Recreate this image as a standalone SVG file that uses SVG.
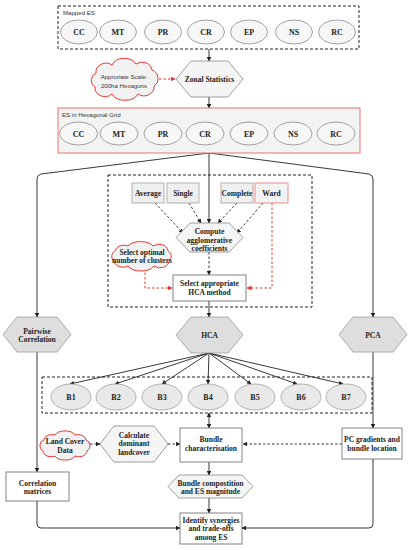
<svg xmlns="http://www.w3.org/2000/svg" width="410" height="550" viewBox="0 0 410 550">
<defs>
<style>
.t{font-family:"Liberation Serif","Times New Roman",serif;font-weight:bold;font-size:7.5px;fill:#222;text-anchor:middle}
.L{font-size:8px}
.s{font-family:"Liberation Sans",Arial,sans-serif;font-size:6.1px;fill:#333}
.el{fill:#f7f7f7;stroke:#8a8a8a;stroke-width:0.8}
.bel{fill:#e9e9e9;stroke:#a0a0a0;stroke-width:0.8}
.box{fill:#fff;stroke:#777;stroke-width:0.9}
.gbox{fill:#efefef;stroke:#aaa;stroke-width:0.9}
.hex{fill:#f5f5f5;stroke:#888;stroke-width:0.8}
.ghex{fill:#dedede;stroke:#999;stroke-width:0.8}
.cloud{fill:#f2f2f2;stroke:#e53935;stroke-width:1}
.grp{fill:none;stroke:#222;stroke-width:1;stroke-dasharray:3 2}
.c{fill:none;stroke:#222;stroke-width:0.9}
.d{fill:none;stroke:#222;stroke-width:0.9;stroke-dasharray:2.5 2}
.r{fill:none;stroke:#e53935;stroke-width:1;stroke-dasharray:2.5 2}
</style>
<marker id="a" viewBox="0 0 10 10" refX="9" refY="5" markerWidth="5" markerHeight="5" orient="auto-start-reverse"><path d="M0,0 L10,5 L0,10 z" fill="#222"/></marker>
<marker id="ar" viewBox="0 0 10 10" refX="9" refY="5" markerWidth="5" markerHeight="5" orient="auto"><path d="M0,0 L10,5 L0,10 z" fill="#e53935"/></marker>
</defs>
<rect width="410" height="550" fill="#fff"/>

<g id="connectors">
<path class="c" d="M209,49 L209,61" marker-end="url(#a)"/>
<path class="r" d="M159,79 L175,79" marker-end="url(#ar)"/>
<path class="c" d="M209,97 L209,108" marker-end="url(#a)"/>
<path class="c" d="M209,153 L41,174 Q37,175 37,179 L37,317" marker-end="url(#a)"/>
<path class="c" d="M209,153 L369,174 Q373,175 373,179 L373,317" marker-end="url(#a)"/>
<path class="c" d="M209,153 L209,223" marker-end="url(#a)"/>
<path class="d" d="M155,203 L183,233" marker-end="url(#a)"/>
<path class="d" d="M189,203 L201,223" marker-end="url(#a)"/>
<path class="d" d="M237,203 L218,223" marker-end="url(#a)"/>
<path class="d" d="M263,203 L237,233" marker-end="url(#a)"/>
<path class="d" d="M209,252 L209,275" marker-end="url(#a)"/>
<path class="r" d="M145,268 L145,288 L172,288" marker-end="url(#ar)"/>
<path class="r" d="M272,203 L272,288 L247,288" marker-end="url(#ar)"/>
<path class="c" d="M209,301 L209,317" marker-end="url(#a)"/>
<path class="c" d="M37,352 L37,472" marker-end="url(#a)"/>
<path class="c" d="M373,352 L373,428" marker-end="url(#a)"/>
<path class="c" d="M209,353 L70,384" marker-end="url(#a)"/>
<path class="c" d="M209,353 L115,384" marker-end="url(#a)"/>
<path class="c" d="M209,353 L162,384" marker-end="url(#a)"/>
<path class="c" d="M209,353 L208,384" marker-end="url(#a)"/>
<path class="c" d="M209,353 L251,384" marker-end="url(#a)"/>
<path class="c" d="M209,353 L297,384" marker-end="url(#a)"/>
<path class="c" d="M209,353 L343,384" marker-end="url(#a)"/>
<path class="c" d="M209,413 L209,428" marker-start="url(#a)" marker-end="url(#a)"/>
<path class="d" d="M90,444 L100,444" marker-end="url(#a)"/>
<path class="d" d="M168,444 L180,444" marker-end="url(#a)"/>
<path class="d" d="M342,444 L243,444" marker-end="url(#a)"/>
<path class="c" d="M209,462 L209,475" marker-end="url(#a)"/>
<path class="c" d="M209,498 L209,513" marker-end="url(#a)"/>
<path class="c" d="M37,501 L37,524 Q37,528 41,528 L180,528" marker-end="url(#a)"/>
<path class="c" d="M373,459 L373,524 Q373,528 369,528 L242,528" marker-end="url(#a)"/>
</g>

<g id="mapped-es">
<rect class="grp" x="58" y="6" width="301" height="43"/>
<text class="s" x="63" y="14.5">Mapped ES</text>
<ellipse class="el" cx="79" cy="32" rx="18.5" ry="12"/><text class="t L" x="79" y="35">CC</text>
<ellipse class="el" cx="118" cy="32" rx="18.5" ry="12"/><text class="t L" x="118" y="35">MT</text>
<ellipse class="el" cx="163" cy="32" rx="18.5" ry="12"/><text class="t L" x="163" y="35">PR</text>
<ellipse class="el" cx="206" cy="32" rx="18.5" ry="12"/><text class="t L" x="206" y="35">CR</text>
<ellipse class="el" cx="249" cy="32" rx="18.5" ry="12"/><text class="t L" x="249" y="35">EP</text>
<ellipse class="el" cx="294" cy="32" rx="18.5" ry="12"/><text class="t L" x="294" y="35">NS</text>
<ellipse class="el" cx="337" cy="32" rx="18.5" ry="12"/><text class="t L" x="337" y="35">RC</text>
</g>

<g id="scale-cloud">
<path class="cloud" d="M96,73 A10,9 0 0 1 112,65 A13,10 0 0 1 136,64 A10,9 0 0 1 152,70 A9,9 0 0 1 154,86 A10,9 0 0 1 138,94 A14,10 0 0 1 112,94 A10,9 0 0 1 95,87 A8,8 0 0 1 96,73 Z"/>
<text class="s" x="124" y="78.5" text-anchor="middle" font-size="6.5">Approriate Scale:</text>
<text class="s" x="124" y="87.5" text-anchor="middle" font-size="6.5">200ha Hexagons</text>
</g>

<g id="zonal">
<polygon class="hex" points="176,79 191,61 228,61 243,79 228,97 191,97"/>
<text class="t" x="209.5" y="81.6">Zonal Statistics</text>
</g>

<g id="es-hex">
<rect x="58" y="108" width="302" height="45" fill="#f3f3f3" stroke="#e87474" stroke-width="1"/>
<text class="s" x="62" y="116.5">ES in Hexagonal Grid</text>
<ellipse class="el" cx="78.5" cy="133.5" rx="19" ry="11.5"/><text class="t L" x="78.5" y="136.5">CC</text>
<ellipse class="el" cx="119" cy="133.5" rx="19" ry="11.5"/><text class="t L" x="119" y="136.5">MT</text>
<ellipse class="el" cx="163" cy="133.5" rx="19" ry="11.5"/><text class="t L" x="163" y="136.5">PR</text>
<ellipse class="el" cx="205" cy="133.5" rx="19" ry="11.5"/><text class="t L" x="205" y="136.5">CR</text>
<ellipse class="el" cx="249" cy="133.5" rx="19" ry="11.5"/><text class="t L" x="249" y="136.5">EP</text>
<ellipse class="el" cx="293" cy="133.5" rx="19" ry="11.5"/><text class="t L" x="293" y="136.5">NS</text>
<ellipse class="el" cx="336" cy="133.5" rx="19" ry="11.5"/><text class="t L" x="336" y="136.5">RC</text>
</g>

<g id="hca-group">
<rect class="grp" x="108" y="175" width="204" height="132"/>
</g>

<g id="average"><rect class="gbox" x="132" y="183" width="32" height="20"/><text class="t" x="148" y="195.7">Average</text></g>
<g id="single"><rect class="gbox" x="167" y="183" width="32" height="20"/><text class="t" x="183" y="195.7">Single</text></g>
<g id="complete"><rect class="gbox" x="221" y="183" width="32" height="20"/><text class="t" x="237" y="195.7">Complete</text></g>
<g id="ward"><rect x="255" y="183" width="33" height="20" fill="#f3f3f3" stroke="#ea8080" stroke-width="0.9"/><text class="t" x="271.5" y="195.7">Ward</text></g>

<g id="compute">
<polygon class="hex" points="176,237.5 190,223 229,223 243,237.5 229,252 190,252"/>
<text class="t" x="209.5" y="234.3">Compute</text>
<text class="t" x="209.5" y="243.2">agglomerative</text>
<text class="t" x="209.5" y="251.2">coefficients</text>
</g>

<g id="optimal-cloud">
<path class="cloud" d="M115,251 A9,7 0 0 1 128,246 A14,8 0 0 1 153,246 A9,7 0 0 1 168,251 A6,6 0 0 1 169,261 A9,7 0 0 1 154,266 A14,8 0 0 1 128,266 A9,7 0 0 1 114,261 A6,6 0 0 1 115,251 Z"/>
<text class="t" x="142" y="254.8" font-size="6.6">Select optimal</text>
<text class="t" x="142" y="263" font-size="6.6">number of clusters</text>
</g>

<g id="select-hca">
<rect class="box" x="173" y="275" width="73" height="26"/>
<text class="t" x="209.5" y="285.8">Select appropriate</text>
<text class="t" x="209.5" y="294.8">HCA method</text>
</g>

<g id="pairwise">
<polygon class="ghex" points="3,334.5 17,317 57,317 71,334.5 57,352 17,352"/>
<text class="t" x="37" y="333.5">Pairwise</text>
<text class="t" x="37" y="342">Correlation</text>
</g>

<g id="hca">
<polygon class="ghex" points="176,335 191,317 228,317 243,335 228,353 191,353"/>
<text class="t" x="209.5" y="337.7">HCA</text>
</g>

<g id="pca">
<polygon class="ghex" points="339,334.5 353,317 393,317 407,334.5 393,352 353,352"/>
<text class="t" x="373" y="337.5">PCA</text>
</g>

<g id="bundles">
<rect class="grp" x="42" y="377" width="330" height="36"/>
<ellipse class="bel" cx="71" cy="397" rx="20" ry="13"/><text class="t L" x="71" y="400">B1</text>
<ellipse class="bel" cx="116" cy="397" rx="20" ry="13"/><text class="t L" x="116" y="400">B2</text>
<ellipse class="bel" cx="162" cy="397" rx="20" ry="13"/><text class="t L" x="162" y="400">B3</text>
<ellipse class="bel" cx="208" cy="397" rx="20" ry="13"/><text class="t L" x="208" y="400">B4</text>
<ellipse class="bel" cx="255" cy="397" rx="20" ry="13"/><text class="t L" x="255" y="400">B5</text>
<ellipse class="bel" cx="301" cy="397" rx="20" ry="13"/><text class="t L" x="301" y="400">B6</text>
<ellipse class="bel" cx="346" cy="397" rx="20" ry="13"/><text class="t L" x="346" y="400">B7</text>
</g>

<g id="landcover-cloud">
<path class="cloud" d="M44,440 A8,6 0 0 1 55,435 A11,7 0 0 1 75,435 A8,6 0 0 1 86,440 A6,6 0 0 1 87,451 A8,6 0 0 1 75,456 A11,7 0 0 1 55,456 A8,6 0 0 1 43,451 A6,6 0 0 1 44,440 Z"/>
<text class="t" x="65" y="444.2" font-size="6.9">Land Cover</text>
<text class="t" x="65" y="452.8" font-size="6.9">Data</text>
</g>

<g id="dominant">
<polygon class="hex" points="100,444 114,426 154,426 168,444 154,462 114,462"/>
<text class="t" x="134" y="437.6">Calculate</text>
<text class="t" x="134" y="446.1">dominant</text>
<text class="t" x="134" y="454.6">landcover</text>
</g>

<g id="bundle-char">
<rect class="box" x="180" y="428" width="62" height="34"/>
<text class="t" x="211" y="441.6">Bundle</text>
<text class="t" x="211" y="450.6">characterisation</text>
</g>

<g id="pc-gradients">
<rect class="box" x="342" y="428" width="60" height="31"/>
<text class="t" x="372" y="441.6">PC gradients and</text>
<text class="t" x="372" y="450.6">bundle location</text>
</g>

<g id="corr-matrices">
<rect class="box" x="6" y="472" width="63" height="29"/>
<text class="t" x="37.5" y="485.6">Correlation</text>
<text class="t" x="37.5" y="494.1">matrices</text>
</g>

<g id="bundle-comp">
<polygon class="hex" points="168,486.5 179,475 242,475 253,486.5 242,498 179,498"/>
<text class="t" x="210.5" y="485.6">Bundle compostition</text>
<text class="t" x="210.5" y="494.1">and ES magnitude</text>
</g>

<g id="identify">
<rect class="box" x="180" y="513" width="62" height="31"/>
<text class="t" x="211" y="522.6">Identify synergies</text>
<text class="t" x="211" y="531.1">and trade-offs</text>
<text class="t" x="211" y="539.6">among ES</text>
</g>
</svg>
